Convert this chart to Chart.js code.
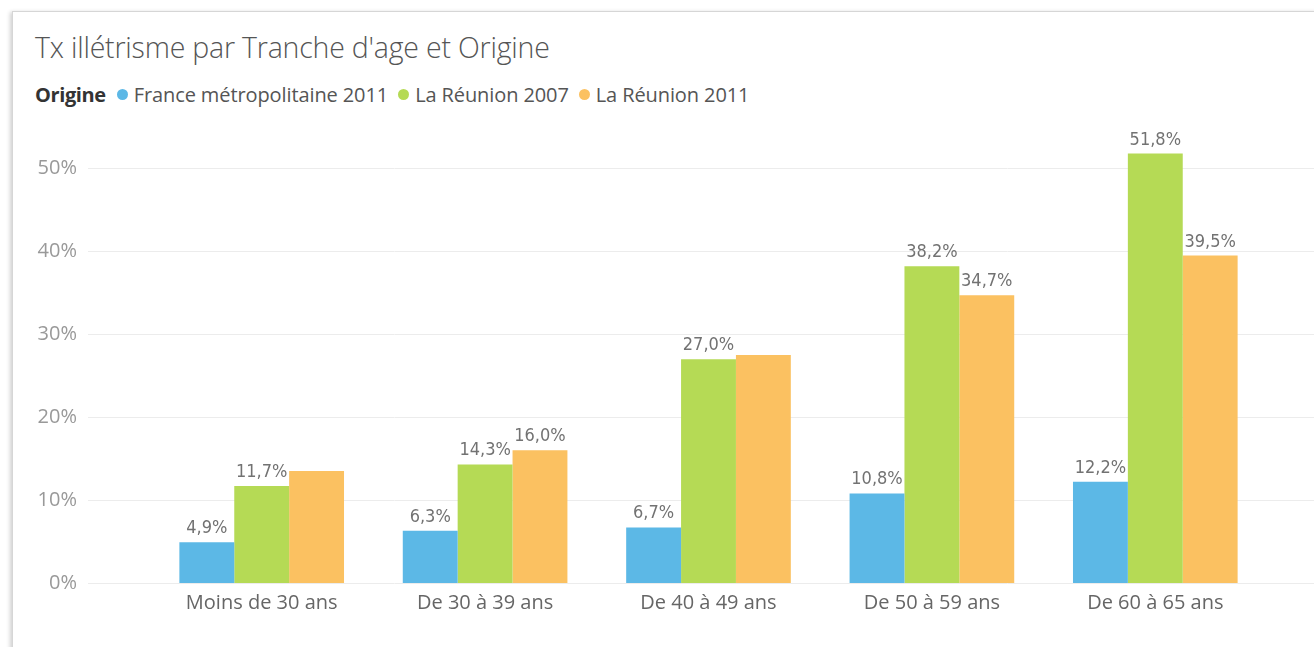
<!DOCTYPE html>
<html>
<head>
<meta charset="utf-8">
<script src="https://cdn.jsdelivr.net/npm/chart.js@4/dist/chart.umd.min.js"></script>
<style>
  html, body { margin: 0; padding: 0; background: #fff; width: 1314px; height: 647px; overflow: hidden; }
  #card { position: absolute; left: 12px; top: 11px; width: 1400px; height: 700px; border: 1px solid #d6d6d6; box-shadow: -2px 1px 4px rgba(0,0,0,0.18); background: #fff; }
  #title { position: absolute; left: 35px; top: 33px; line-height: 1; font-family: "Open Sans", sans-serif; font-weight: 300; font-size: 28.5px; color: #555; white-space: nowrap; letter-spacing: -0.2px; }
  #legend { position: absolute; left: 35px; top: 85px; line-height: 1; font-family: "Open Sans", sans-serif; font-size: 20px; color: #555; white-space: nowrap; letter-spacing: -0.1px; }
  #legend b { color: #333; font-weight: 700; margin-right: 11px; letter-spacing: -0.4px; }
  #legend .it { margin-right: 10px; }
  #legend .dot { display: inline-block; width: 11px; height: 11px; border-radius: 50%; margin-right: 6px; vertical-align: 2px; }
  #wrap { position: absolute; left: 0; top: 120px; width: 1314px; height: 527px; }
</style>
</head>
<body>
<div id="card"></div>
<div id="title">Tx illétrisme par Tranche d'age et Origine</div>
<div id="legend"></div>
<div id="wrap"><canvas id="c" width="1314" height="527"></canvas></div>
<script>
const categories = ["Moins de 30 ans", "De 30 à 39 ans", "De 40 à 49 ans", "De 50 à 59 ans", "De 60 à 65 ans"];
const seriesNames = ["France métropolitaine 2011", "La Réunion 2007", "La Réunion 2011"];
const franceMetro2011 = [4.9, 6.3, 6.7, 10.8, 12.2];
const reunion2007 = [11.7, 14.3, 27.0, 38.2, 51.8];
const reunion2011 = [13.5, 16.0, 27.5, 34.7, 39.5];
// which data labels are visible in the reference (per series)
const showLabelsFrance = [true, true, true, true, true];
const showLabels2007 = [true, true, true, true, true];
const showLabels2011 = [false, true, false, true, true];
const yTicks = [0, 10, 20, 30, 40, 50];
const colors = ["#5CB8E6", "#B5DA55", "#FBC161"];

const legend = document.getElementById('legend');
legend.innerHTML = '<b>Origine</b>' + seriesNames.map((n, i) =>
  '<span class="it"><span class="dot" style="background:' + colors[i] + '"></span>' + n + '</span>').join('');

const fmt = v => v.toFixed(1).replace('.', ',') + '%';
const showLabels = [showLabelsFrance, showLabels2007, showLabels2011];

const gridPlugin = {
  id: 'gridPlugin',
  beforeDatasetsDraw(chart) {
    const ctx = chart.ctx, y = chart.scales.y;
    ctx.save();
    ctx.strokeStyle = '#ececec';
    ctx.lineWidth = 1;
    yTicks.forEach(t => {
      const py = Math.round(y.getPixelForValue(t)) + 0.5;
      ctx.beginPath(); ctx.moveTo(88, py); ctx.lineTo(1314, py); ctx.stroke();
    });
    ctx.restore();
  }
};
const labelPlugin = {
  id: 'labelPlugin',
  afterDatasetsDraw(chart) {
    const ctx = chart.ctx;
    ctx.save();
    ctx.font = '18px "DejaVu Sans Condensed", "Liberation Sans Narrow", sans-serif';
    ctx.fillStyle = '#727272';
    ctx.textAlign = 'center';
    ctx.textBaseline = 'alphabetic';
    chart.data.datasets.forEach((ds, di) => {
      const meta = chart.getDatasetMeta(di);
      meta.data.forEach((el, i) => {
        if (!showLabels[di][i]) return;
        ctx.fillText(fmt(ds.data[i]), el.x, el.y - 9);
      });
    });
    ctx.restore();
  }
};

new Chart(document.getElementById('c'), {
  type: 'bar',
  data: {
    labels: categories,
    datasets: [
      { label: seriesNames[0], data: franceMetro2011, backgroundColor: colors[0] },
      { label: seriesNames[1], data: reunion2007, backgroundColor: colors[1] },
      { label: seriesNames[2], data: reunion2011, backgroundColor: colors[2] }
    ]
  },
  options: {
    responsive: false,
    animation: false,
    layout: { padding: { top: 7, right: 47, left: 0, bottom: 0 } },
    datasets: { bar: { categoryPercentage: 0.737, barPercentage: 1.0, borderWidth: 0 } },
    plugins: { legend: { display: false }, tooltip: { enabled: false } },
    scales: {
      x: {
        grid: { display: false, drawTicks: false },
        border: { display: false },
        ticks: { color: '#666', font: { family: '"Open Sans", sans-serif', size: 20 }, padding: 8, maxRotation: 0 },
        afterFit(s) { s.height = 64; s.paddingLeft = 0; s.paddingRight = 0; }
      },
      y: {
        min: 0, max: 55,
        grid: { display: false, drawTicks: false },
        border: { display: false },
        afterBuildTicks(s) { s.ticks = yTicks.map(v => ({ value: v })); },
        ticks: { color: '#999', font: { family: '"Open Sans", sans-serif', size: 20 }, padding: 73,
                 callback: v => v + '%' },
        afterFit(s) { s.width = 150; s.paddingTop = 0; s.paddingBottom = 0; }
      }
    }
  },
  plugins: [gridPlugin, labelPlugin]
});
</script>
</body>
</html>
